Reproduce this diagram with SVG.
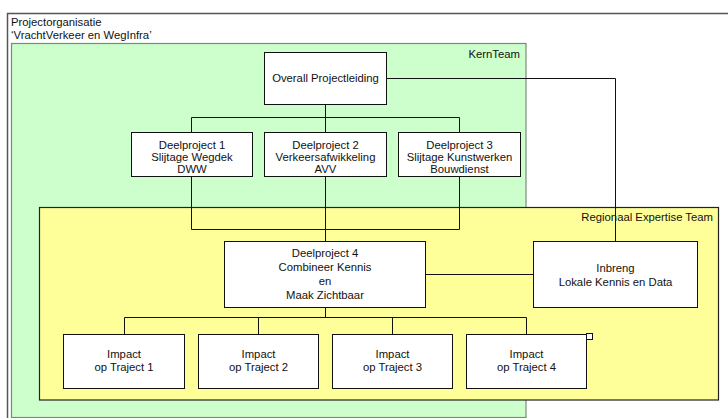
<svg xmlns="http://www.w3.org/2000/svg" width="728" height="418" viewBox="0 0 728 418">
<style>
text{font-family:"Liberation Sans",Arial,sans-serif;font-size:11.3px;fill:#111}
.c{text-anchor:middle}
.box{fill:#fff;stroke:#111;stroke-width:1}
.ln{fill:none;stroke:#111;stroke-width:1}
</style>
<rect width="728" height="418" fill="#fff"/>
<g id="frame">
<rect x="7.5" y="13.5" width="730" height="420" fill="#fff" stroke="#555" stroke-width="1.5"/>
<text x="11" y="26">Projectorganisatie</text>
<text x="11" y="39">‘VrachtVerkeer en WegInfra’</text>
</g>
<g id="kernteam">
<rect x="11.5" y="43.5" width="514.5" height="374" fill="#CCFFCC" stroke="#7a8a7a" stroke-width="1.2"/>
<text x="520" y="58" text-anchor="end">KernTeam</text>
</g>
<g id="regionaal">
<rect x="39.5" y="207.5" width="679" height="192.5" fill="#FFFF99" stroke="#222" stroke-width="1.2"/>
<text x="713" y="221" text-anchor="end">Regionaal Expertise Team</text>
</g>
<g id="connectors">
<polyline class="ln" points="386,78.5 615.5,78.5 615.5,241"/>
<polyline class="ln" points="325.5,104 325.5,241"/>
<polyline class="ln" points="191.5,132 191.5,117.5 459.5,117.5 459.5,132"/>
<polyline class="ln" points="191.5,176 191.5,229.5 459.5,229.5 459.5,176"/>
<line class="ln" x1="426" y1="274.5" x2="533" y2="274.5"/>
<line class="ln" x1="325.5" y1="307" x2="325.5" y2="317.5"/>
<polyline class="ln" points="124.5,334 124.5,317.5 526.5,317.5 526.5,334"/>
<line class="ln" x1="258.5" y1="317.5" x2="258.5" y2="334"/>
<line class="ln" x1="392.5" y1="317.5" x2="392.5" y2="334"/>
</g>
<g id="overall">
<rect class="box" x="264.5" y="52.5" width="122" height="52"/>
<text class="c" x="325.5" y="82">Overall Projectleiding</text>
</g>
<g id="dp1">
<rect class="box" x="131.5" y="132.5" width="121" height="44"/>
<text class="c" x="192" y="149">Deelproject 1</text>
<text class="c" x="192" y="161">Slijtage Wegdek</text>
<text class="c" x="192" y="172.5">DWW</text>
</g>
<g id="dp2">
<rect class="box" x="264.5" y="132.5" width="122" height="44"/>
<text class="c" x="325.5" y="149">Deelproject 2</text>
<text class="c" x="325.5" y="161">Verkeersafwikkeling</text>
<text class="c" x="325.5" y="172.5">AVV</text>
</g>
<g id="dp3">
<rect class="box" x="398.5" y="132.5" width="122" height="44"/>
<text class="c" x="459.5" y="149">Deelproject 3</text>
<text class="c" x="459.5" y="161">Slijtage Kunstwerken</text>
<text class="c" x="459.5" y="172.5">Bouwdienst</text>
</g>
<g id="dp4">
<rect class="box" x="224.5" y="241.5" width="201" height="66"/>
<text class="c" x="325" y="257">Deelproject 4</text>
<text class="c" x="325" y="271">Combineer Kennis</text>
<text class="c" x="325" y="285">en</text>
<text class="c" x="325" y="298.5">Maak Zichtbaar</text>
</g>
<g id="inbreng">
<rect class="box" x="533.5" y="241.5" width="164" height="66"/>
<text class="c" x="615.5" y="272">Inbreng</text>
<text class="c" x="615.5" y="286">Lokale Kennis en Data</text>
</g>
<g id="impact1">
<rect class="box" x="63.5" y="334.5" width="121" height="54"/>
<text class="c" x="124" y="358">Impact</text>
<text class="c" x="124" y="371">op Traject 1</text>
</g>
<g id="impact2">
<rect class="box" x="198.5" y="334.5" width="120" height="54"/>
<text class="c" x="258.5" y="358">Impact</text>
<text class="c" x="258.5" y="371">op Traject 2</text>
</g>
<g id="impact3">
<rect class="box" x="332.5" y="334.5" width="120" height="54"/>
<text class="c" x="392.5" y="358">Impact</text>
<text class="c" x="392.5" y="371">op Traject 3</text>
</g>
<g id="impact4">
<rect class="box" x="466.5" y="334.5" width="120" height="54"/>
<rect x="586.5" y="333.5" width="6" height="6" fill="#fff" stroke="#111" stroke-width="1"/>
<text class="c" x="526.5" y="358">Impact</text>
<text class="c" x="526.5" y="371">op Traject 4</text>
</g>
</svg>
